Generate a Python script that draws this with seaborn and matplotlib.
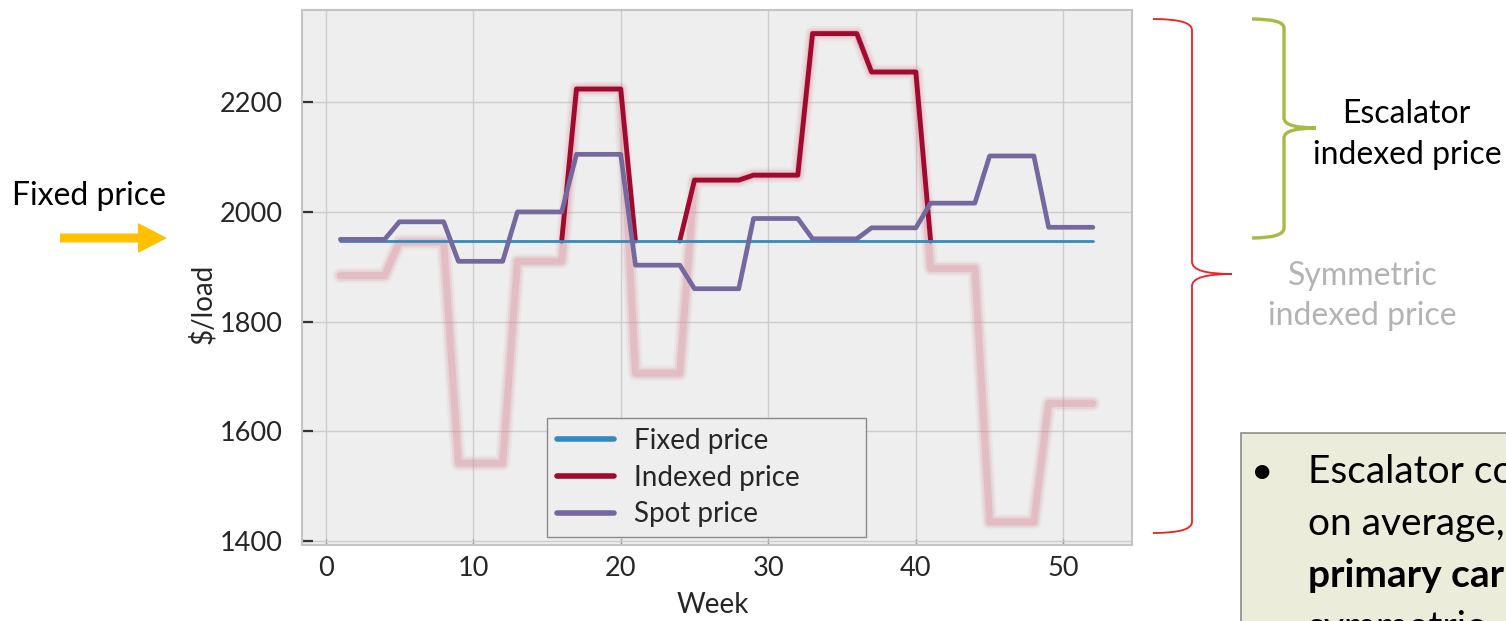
import matplotlib
matplotlib.use("Agg")
import matplotlib.pyplot as plt
import seaborn as sns
import pandas as pd
from matplotlib.path import Path
from matplotlib.patches import PathPatch, FancyArrow, Rectangle
from matplotlib.lines import Line2D

# ---------------- data ----------------
weeks = [1, 2, 3, 4, 5, 6, 7, 8, 9, 10, 11, 12, 13, 14, 15, 16, 17, 18, 19, 20,
         21, 22, 23, 24, 25, 26, 27, 28, 29, 30, 31, 32, 33, 34, 35, 36, 37, 38,
         39, 40, 41, 42, 43, 44, 45, 46, 47, 48, 49, 50, 51, 52]

fixed_price = [1947, 1947, 1947, 1947, 1947, 1947, 1947, 1947, 1947, 1947, 1947, 1947, 1947,
               1947, 1947, 1947, 1947, 1947, 1947, 1947, 1947, 1947, 1947, 1947, 1947, 1947,
               1947, 1947, 1947, 1947, 1947, 1947, 1947, 1947, 1947, 1947, 1947, 1947, 1947,
               1947, 1947, 1947, 1947, 1947, 1947, 1947, 1947, 1947, 1947, 1947, 1947, 1947]

indexed_price = [1947, 1947, 1947, 1947, 1947, 1947, 1947, 1947, 1947, 1947, 1947, 1947, 1947,
                 1947, 1947, 1947, 2224, 2224, 2224, 2224, 1947, 1947, 1947, 1947, 2058, 2058,
                 2058, 2058, 2067, 2067, 2067, 2067, 2325, 2325, 2325, 2325, 2255, 2255, 2255,
                 2255, 1947, 1947, 1947, 1947, 1947, 1947, 1947, 1947, 1947, 1947, 1947, 1947]

spot_price = [1950, 1950, 1950, 1950, 1982, 1982, 1982, 1982, 1910, 1910, 1910, 1910, 2000,
              2000, 2000, 2000, 2105, 2105, 2105, 2105, 1903, 1903, 1903, 1903, 1860, 1860,
              1860, 1860, 1988, 1988, 1988, 1988, 1951, 1951, 1951, 1951, 1971, 1971, 1971,
              1971, 2016, 2016, 2016, 2016, 2102, 2102, 2102, 2102, 1972, 1972, 1972, 1972]

symmetric_price = [1884, 1884, 1884, 1884, 1945, 1945, 1945, 1945, 1542, 1542, 1542, 1542, 1910,
                   1910, 1910, 1910, 2224, 2224, 2224, 2224, 1706, 1706, 1706, 1706, 2058, 2058,
                   2058, 2058, 2067, 2067, 2067, 2067, 2325, 2325, 2325, 2325, 2255, 2255, 2255,
                   2255, 1897, 1897, 1897, 1897, 1435, 1435, 1435, 1435, 1651, 1651, 1651, 1651]

series_labels = ["Fixed price", "Indexed price", "Spot price"]
x_ticks = [0, 10, 20, 30, 40, 50]
y_ticks = [1400, 1600, 1800, 2000, 2200]

df = pd.DataFrame({"Week": weeks, "Fixed price": fixed_price,
                   "Indexed price": indexed_price, "Spot price": spot_price,
                   "Symmetric": symmetric_price})

# The indexed line sits under the fixed line where both are equal; only the
# parts that leave the fixed level are drawn (as separate segments).
n = len(weeks)
at_fixed = [indexed_price[i] == fixed_price[i] for i in range(n)]
hidden = [at_fixed[i] and (i == 0 or at_fixed[i - 1]) and (i == n - 1 or at_fixed[i + 1])
          for i in range(n)]
seg_ids, seg = [], 0
for i in range(n):
    if hidden[i]:
        seg_ids.append(None)
        if i > 0 and not hidden[i - 1]:
            seg += 1
    else:
        seg_ids.append(seg)
df["seg"] = seg_ids
df_ind = df[df["seg"].notna()]

# ---------------- style ----------------
sns.set_style("darkgrid")
plt.rcParams["font.family"] = ["Lato", "DejaVu Sans"]

BLUE, RED, PURPLE = "#348ABD", "#A00A2E", "#74689E"
PINK = "#d98e9a"

fig = plt.figure(figsize=(15.06, 6.21), dpi=100)
fig.patch.set_facecolor("white")
ax = fig.add_axes([302 / 1506, 1 - 545 / 621, 830 / 1506, 535 / 621])
ax.set_facecolor("#eeeeee")

# faded "symmetric" overlay line (blurred look)
for lw, a in [(11, 0.10), (8, 0.18), (5, 0.32)]:
    sns.lineplot(data=df, x="Week", y="Symmetric", ax=ax, color=PINK,
                 linewidth=lw, alpha=a, zorder=1, legend=False)

sns.lineplot(data=df_ind, x="Week", y="Indexed price", units="seg", estimator=None,
             ax=ax, color=RED, linewidth=3.5, zorder=2, legend=False)
sns.lineplot(data=df, x="Week", y="Fixed price", ax=ax, color=BLUE,
             linewidth=2.0, zorder=3, legend=False)
sns.lineplot(data=df, x="Week", y="Spot price", ax=ax, color=PURPLE,
             linewidth=3.4, zorder=4, legend=False)

ax.set_xlim(-1.6, 54.65)
ax.set_ylim(1393, 2368)
ax.set_xticks(x_ticks)
ax.set_yticks(y_ticks)
ax.grid(True, color="#cdcdcd", linewidth=1.0, linestyle="-")
for s in ax.spines.values():
    s.set_visible(True)
    s.set_color("#c4c4c4")
    s.set_linewidth(1.5)

ax.tick_params(axis="y", direction="in", length=8, width=1.6, color="#333333",
               labelsize=19.5, pad=14, left=True)
ax.tick_params(axis="x", direction="in", length=4, width=1.0, color="#999999",
               labelsize=19.5, pad=8, bottom=True)

ax.set_xlabel("Week", fontsize=20)
ax.set_ylabel(r"\$/load", fontsize=20)
ax.xaxis.set_label_coords((713 - 302) / 830, -0.088)
ax.yaxis.set_label_coords(-0.104, (545 - 304) / 535)

handles = [Line2D([], [], color=BLUE, lw=4),
           Line2D([], [], color=RED, lw=4),
           Line2D([], [], color=PURPLE, lw=4)]
leg = ax.legend(handles, series_labels, loc="lower left",
                bbox_to_anchor=((547 - 302) / 830, (545 - 537) / 535, (866 - 547) / 830, 0.2),
                mode="expand", borderaxespad=0, fontsize=20, frameon=True,
                fancybox=False, framealpha=1, facecolor="#eeeeee", edgecolor="#8a8a8a",
                borderpad=0.35, labelspacing=0.38, handlelength=2.05, handletextpad=0.75)
leg.get_frame().set_linewidth(1.0)
leg.set_zorder(10)

# ---------------- slide annotations (overlay in pixel coords) ----------------
ov = fig.add_axes([0, 0, 1, 1])
ov.set_xlim(0, 1506)
ov.set_ylim(621, 0)
ov.axis("off")

# "Fixed price" label with arrow
ov.text(12, 205, "Fixed price", fontsize=23, ha="left", va="baseline", color="black")
ov.add_patch(FancyArrow(60, 238, 107, 0, width=9, head_width=30, head_length=29,
                        length_includes_head=True, color="#FFC000", lw=0))

# red brace
red_path = Path([(1153, 19), (1192, 19), (1192, 30),
                 (1192, 262),
                 (1192, 274), (1232, 274),
                 (1192, 274), (1192, 286),
                 (1192, 522),
                 (1192, 533), (1153, 533)],
                [Path.MOVETO, Path.CURVE3, Path.CURVE3,
                 Path.LINETO,
                 Path.CURVE3, Path.CURVE3,
                 Path.CURVE3, Path.CURVE3,
                 Path.LINETO,
                 Path.CURVE3, Path.CURVE3])
ov.add_patch(PathPatch(red_path, fill=False, edgecolor="#ee2020", lw=1.3))

# olive brace
ol_path = Path([(1252, 19), (1284, 19), (1284, 28),
                (1284, 118),
                (1284, 128), (1316, 128),
                (1284, 128), (1284, 138),
                (1284, 228),
                (1284, 238), (1252, 238)],
               [Path.MOVETO, Path.CURVE3, Path.CURVE3,
                Path.LINETO,
                Path.CURVE3, Path.CURVE3,
                Path.CURVE3, Path.CURVE3,
                Path.LINETO,
                Path.CURVE3, Path.CURVE3])
ov.add_patch(PathPatch(ol_path, fill=False, edgecolor="#a9b944", lw=2.4))

ov.text(1406, 123, "Escalator", fontsize=23, ha="center", va="baseline", color="black")
ov.text(1407, 164, "indexed price", fontsize=23, ha="center", va="baseline", color="black")
ov.text(1363, 285, "Symmetric", fontsize=23, ha="center", va="baseline", color="#b3b3b3")
ov.text(1362, 325, "indexed price", fontsize=23, ha="center", va="baseline", color="#b3b3b3")

# text box (clipped at the slide edge, as in the original slide)
ov.add_patch(Rectangle((1241, 433), 320, 240, facecolor="#ebedda",
                       edgecolor="#8c8c8c", lw=1.2, clip_on=True))
ov.text(1262, 483, "\u2022", fontsize=28, ha="center", va="baseline", color="black", clip_on=True)
ov.text(1308, 483, "Escalator co", fontsize=28, ha="left", va="baseline",
        color="black", clip_on=True)
ov.text(1308, 535, "on average,", fontsize=28, ha="left", va="baseline",
        color="black", clip_on=True)
ov.text(1308, 587, "primary car", fontsize=28, ha="left", va="baseline",
        color="black", fontweight="bold", clip_on=True)
ov.text(1308, 639, "symmetric", fontsize=28, ha="left", va="baseline",
        color="black", clip_on=True)

fig.savefig("out.png", dpi=100, facecolor="white")
